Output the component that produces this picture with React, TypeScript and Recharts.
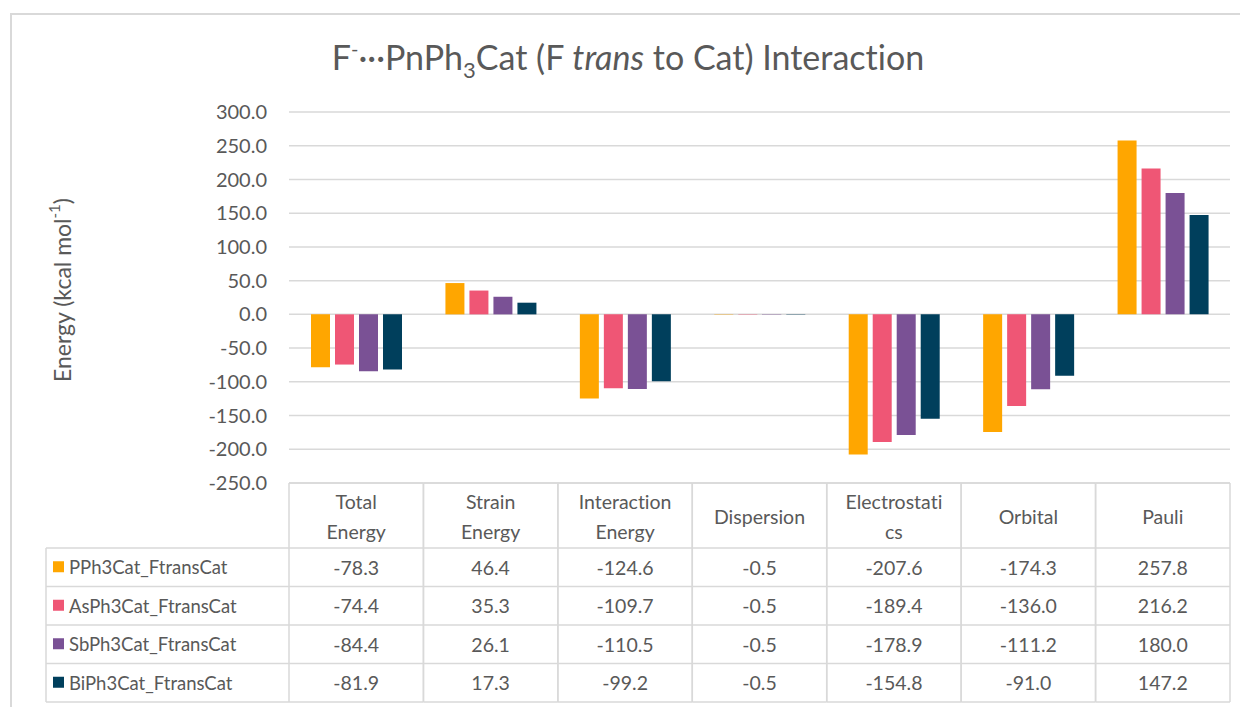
import { BarChart, Bar, XAxis, YAxis, CartesianGrid } from 'recharts'

// F-···PnPh3Cat (F trans to Cat) interaction energies, kcal/mol
const categories = [
  'Total Energy',
  'Strain Energy',
  'Interaction Energy',
  'Dispersion',
  'Electrostatics',
  'Orbital',
  'Pauli',
]
// header text as it wraps in the data table
const headerLines = [
  ['Total', 'Energy'],
  ['Strain', 'Energy'],
  ['Interaction', 'Energy'],
  ['Dispersion'],
  ['Electrostati', 'cs'],
  ['Orbital'],
  ['Pauli'],
]

const seriesNames = [
  'PPh3Cat_FtransCat',
  'AsPh3Cat_FtransCat',
  'SbPh3Cat_FtransCat',
  'BiPh3Cat_FtransCat',
]
const pValues = [-78.3, 46.4, -124.6, -0.5, -207.6, -174.3, 257.8]
const asValues = [-74.4, 35.3, -109.7, -0.5, -189.4, -136.0, 216.2]
const sbValues = [-84.4, 26.1, -110.5, -0.5, -178.9, -111.2, 180.0]
const biValues = [-81.9, 17.3, -99.2, -0.5, -154.8, -91.0, 147.2]
const seriesValues = [pValues, asValues, sbValues, biValues]
const seriesColors = ['#FFA600', '#EF5675', '#7A5195', '#003F5C']

const yTicks = [-250, -200, -150, -100, -50, 0, 50, 100, 150, 200, 250, 300]

const data = categories.map((name, i) => ({
  name,
  s0: pValues[i],
  s1: asValues[i],
  s2: sbValues[i],
  s3: biValues[i],
}))

// ─── layout ───
const W = 1240
const H = 699
const M = { top: 104, right: 18, left: 0, bottom: 4 }
const Y_AXIS_W = 281
const X_AXIS_H = 220
const COL_W = (W - M.left - M.right - Y_AXIS_W) / categories.length
const HEAD_H = 65
const ROW_H = 38.5
const LEGEND_LEFT = 38

const FONT = 'Lato, "Open Sans", sans-serif'
const TEXT = '#595959'
const LINE = '#D9D9D9'

// each x tick draws a whole column of the data table
function TableColumn({ x, y, payload, index }: any) {
  const left = x - COL_W / 2
  const right = x + COL_W / 2
  const bottom = y + HEAD_H + ROW_H * seriesNames.length
  const lines = headerLines[index] || [payload.value]
  const rowYs = seriesNames.map((_, k) => y + HEAD_H + ROW_H * k)

  return (
    <g fontFamily={FONT} fill={TEXT} style={{ fontVariantLigatures: 'none' }}>
      {/* grid */}
      <line x1={left} x2={left} y1={y} y2={bottom} stroke={LINE} strokeWidth={1.5} />
      <line x1={right} x2={right} y1={y} y2={bottom} stroke={LINE} strokeWidth={1.5} />
      <line x1={left} x2={right} y1={y} y2={y} stroke={LINE} strokeWidth={1.5} />
      {rowYs.map((ry) => (
        <line key={ry} x1={left} x2={right} y1={ry} y2={ry} stroke={LINE} strokeWidth={1.5} />
      ))}
      <line x1={left} x2={right} y1={bottom} y2={bottom} stroke={LINE} strokeWidth={1.5} />

      {/* header */}
      {lines.map((t: string, j: number) => (
        <text
          key={t}
          x={x}
          y={lines.length === 1 ? y + 33 : y + 18 + j * 30}
          textAnchor="middle"
          dominantBaseline="central"
          fontSize={19.5}
        >
          {t}
        </text>
      ))}

      {/* values */}
      {seriesValues.map((vals, k) => (
        <text
          key={k}
          x={x}
          y={rowYs[k] + ROW_H / 2}
          textAnchor="middle"
          dominantBaseline="central"
          fontSize={19.5}
        >
          {vals[index].toFixed(1)}
        </text>
      ))}

      {/* legend keys live in front of the first column */}
      {index === 0 && (
        <g>
          <line x1={LEGEND_LEFT} x2={LEGEND_LEFT} y1={rowYs[0]} y2={bottom} stroke={LINE} strokeWidth={1.5} />
          {rowYs.map((ry) => (
            <line key={ry} x1={LEGEND_LEFT} x2={left} y1={ry} y2={ry} stroke={LINE} strokeWidth={1.5} />
          ))}
          <line x1={LEGEND_LEFT} x2={left} y1={bottom} y2={bottom} stroke={LINE} strokeWidth={1.5} />
          {seriesNames.map((s, k) => (
            <g key={s}>
              <rect
                x={LEGEND_LEFT + 7}
                y={rowYs[k] + ROW_H / 2 - 6}
                width={11}
                height={11}
                fill={seriesColors[k]}
              />
              <text
                x={LEGEND_LEFT + 23}
                y={rowYs[k] + ROW_H / 2}
                dominantBaseline="central"
                fontSize={18.5}
              >
                {s}
              </text>
            </g>
          ))}
        </g>
      )}
    </g>
  )
}

function YLabel() {
  return (
    <text
      x={54}
      y={282}
      transform="rotate(-90 54 282)"
      textAnchor="middle"
      dominantBaseline="central"
      fontFamily={FONT}
      fontSize={23}
      fill={TEXT}
    >
      Energy (kcal mol
      <tspan dy={-8} fontSize={15}>-1</tspan>
      <tspan dy={8}>)</tspan>
    </text>
  )
}

export default function App() {
  return (
    <div style={{ position: 'relative', width: W, height: H, background: '#fff' }}>
      {/* chart area frame */}
      <div
        style={{
          position: 'absolute',
          left: 2,
          top: 5,
          right: -20,
          bottom: -20,
          borderLeft: `2px solid ${LINE}`,
          borderTop: `2px solid ${LINE}`,
        }}
      />

      {/* title */}
      <div
        style={{
          position: 'absolute',
          left: 0,
          width: W,
          top: 20,
          textAlign: 'center',
          fontFamily: FONT,
          fontSize: 34,
          color: TEXT,
          lineHeight: '40px',
          fontVariantLigatures: 'none',
        }}
      >
        F<span style={{ fontSize: 20, verticalAlign: 14 }}>-</span>···PnPh
        <span style={{ fontSize: 22, verticalAlign: -8 }}>3</span>Cat (F <i>trans</i> to Cat)
        Interaction
      </div>

      <div style={{ position: 'absolute', left: 0, top: 0 }}>
        <BarChart width={W} height={H} data={data} margin={M} barSize={19} barGap={5}>
          <CartesianGrid vertical={false} stroke={LINE} strokeWidth={1.5} />
          <XAxis
            dataKey="name"
            height={X_AXIS_H}
            axisLine={false}
            tickLine={false}
            tickSize={0}
            tickMargin={0}
            interval={0}
            tick={<TableColumn />}
          />
          <YAxis
            width={Y_AXIS_W}
            domain={[-250, 300]}
            ticks={yTicks}
            interval={0}
            axisLine={false}
            tickLine={false}
            tickSize={0}
            tickMargin={22}
            tickFormatter={(v: number) => v.toFixed(1)}
            tick={{ fill: TEXT, fontSize: 20, fontFamily: FONT }}
            label={<YLabel />}
          />
          {seriesNames.map((s, k) => (
            <Bar
              key={s}
              dataKey={`s${k}`}
              name={s}
              fill={seriesColors[k]}
              isAnimationActive={false}
            />
          ))}
        </BarChart>
      </div>
    </div>
  )
}
